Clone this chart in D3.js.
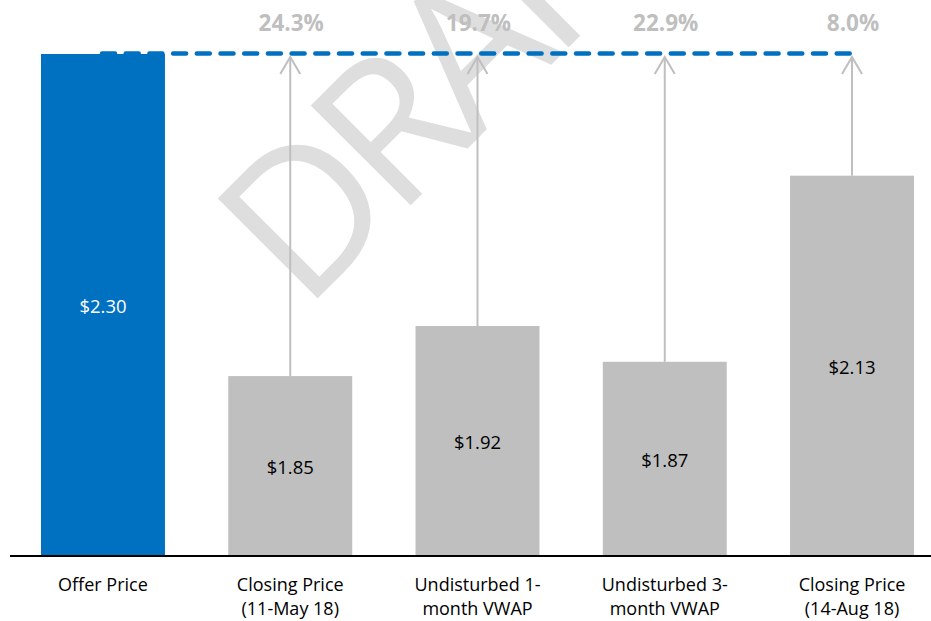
<!DOCTYPE html>
<html>
<head>
<meta charset="utf-8">
<script src="https://cdn.jsdelivr.net/npm/d3@7"></script>
<style>
  body { margin: 0; background: #fff; }
  text { font-family: "Open Sans", "Noto Sans", sans-serif; }
</style>
</head>
<body>
<div id="chart-area"></div>
<script>
// Data
var categories = [
    ["Offer Price"],
    ["Closing Price", "(11-May 18)"],
    ["Undisturbed 1-", "month VWAP"],
    ["Undisturbed 3-", "month VWAP"],
    ["Closing Price", "(14-Aug 18)"]
];
var prices = [2.30, 1.85, 1.92, 1.87, 2.13];
var priceLabels = ["$2.30", "$1.85", "$1.92", "$1.87", "$2.13"];
var premiumLabels = [null, "24.3%", "19.7%", "22.9%", "8.0%"];

var width = 931, height = 621;

var svg = d3.select("#chart-area").append("svg")
    .attr("width", width)
    .attr("height", height);

var idx = d3.range(prices.length);

// Scales
var x = d3.scaleBand()
    .domain(idx)
    .range([41, 914])
    .paddingInner(0.338)
    .paddingOuter(0);
var y = d3.scaleLinear()
    .domain([1.6, 2.3])
    .range([555, 54]);

var offer = prices[0];

// Watermark
svg.append("text")
    .attr("transform", "translate(304,312) rotate(-45)")
    .attr("font-size", "198px")
    .attr("letter-spacing", "-12px")
    .attr("fill", "#dedede")
    .text("DRAFT");

// Bars
svg.selectAll(".bar")
    .data(idx)
    .enter().append("rect")
    .attr("class", "bar")
    .attr("x", function(i){ return x(i); })
    .attr("y", function(i){ return y(prices[i]); })
    .attr("width", x.bandwidth())
    .attr("height", function(i){ return y.range()[0] - y(prices[i]); })
    .attr("fill", function(i){ return i === 0 ? "#0070c0" : "#bfbfbf"; });

// Arrows from each bar up to offer price
var others = idx.filter(function(i){ return i > 0; });
var arrowTop = y(offer) + 3;

svg.selectAll(".arrow-line")
    .data(others)
    .enter().append("line")
    .attr("class", "arrow-line")
    .attr("x1", function(i){ return x(i) + x.bandwidth() / 2; })
    .attr("x2", function(i){ return x(i) + x.bandwidth() / 2; })
    .attr("y1", function(i){ return y(prices[i]); })
    .attr("y2", arrowTop)
    .attr("stroke", "#bfbfbf")
    .attr("stroke-width", 2);

svg.selectAll(".arrow-head")
    .data(others)
    .enter().append("path")
    .attr("class", "arrow-head")
    .attr("d", function(i){
        var cx = x(i) + x.bandwidth() / 2;
        return "M" + (cx - 10) + "," + (arrowTop + 17) + "L" + cx + "," + arrowTop +
               "L" + (cx + 10) + "," + (arrowTop + 17);
    })
    .attr("fill", "none")
    .attr("stroke", "#bfbfbf")
    .attr("stroke-width", 2);

// Dashed offer price line
var lastIdx = idx[idx.length - 1];
svg.append("line")
    .attr("x1", 102)
    .attr("x2", x(lastIdx) + x.bandwidth() / 2 - 2)
    .attr("y1", y(offer) - 0.5)
    .attr("y2", y(offer) - 0.5)
    .attr("stroke", "#0070c0")
    .attr("stroke-width", 4.5)
    .attr("stroke-linecap", "round")
    .attr("stroke-dasharray", "13 10.7");

// Premium labels
svg.selectAll(".premium")
    .data(others)
    .enter().append("text")
    .attr("class", "premium")
    .attr("x", function(i){ return x(i) + x.bandwidth() / 2 + 1; })
    .attr("y", 31)
    .attr("text-anchor", "middle")
    .attr("font-size", "22.5px")
    .attr("font-weight", "bold")
    .attr("fill", "#bfbfbf")
    .text(function(i){ return premiumLabels[i]; });

// Value labels inside bars
svg.selectAll(".value")
    .data(idx)
    .enter().append("text")
    .attr("class", "value")
    .attr("x", function(i){ return x(i) + x.bandwidth() / 2; })
    .attr("y", function(i){ return (y(prices[i]) + y.range()[0]) / 2 + 2; })
    .attr("dy", "0.35em")
    .attr("text-anchor", "middle")
    .attr("font-size", "18.5px")
    .attr("fill", function(i){ return i === 0 ? "#fff" : "#000"; })
    .text(function(i){ return priceLabels[i]; });

// Baseline
svg.append("line")
    .attr("x1", 10)
    .attr("x2", 931)
    .attr("y1", 556)
    .attr("y2", 556)
    .attr("stroke", "#000")
    .attr("stroke-width", 2);

// Category labels
var cat = svg.selectAll(".cat")
    .data(idx)
    .enter().append("text")
    .attr("class", "cat")
    .attr("text-anchor", "middle")
    .attr("font-size", "18px")
    .attr("fill", "#000");
cat.selectAll("tspan")
    .data(function(i){ return categories[i].map(function(s){ return { s: s, i: i }; }); })
    .enter().append("tspan")
    .attr("x", function(d){ return x(d.i) + x.bandwidth() / 2; })
    .attr("y", function(d, j){ return 591 + j * 24; })
    .text(function(d){ return d.s; });
</script>
</body>
</html>
